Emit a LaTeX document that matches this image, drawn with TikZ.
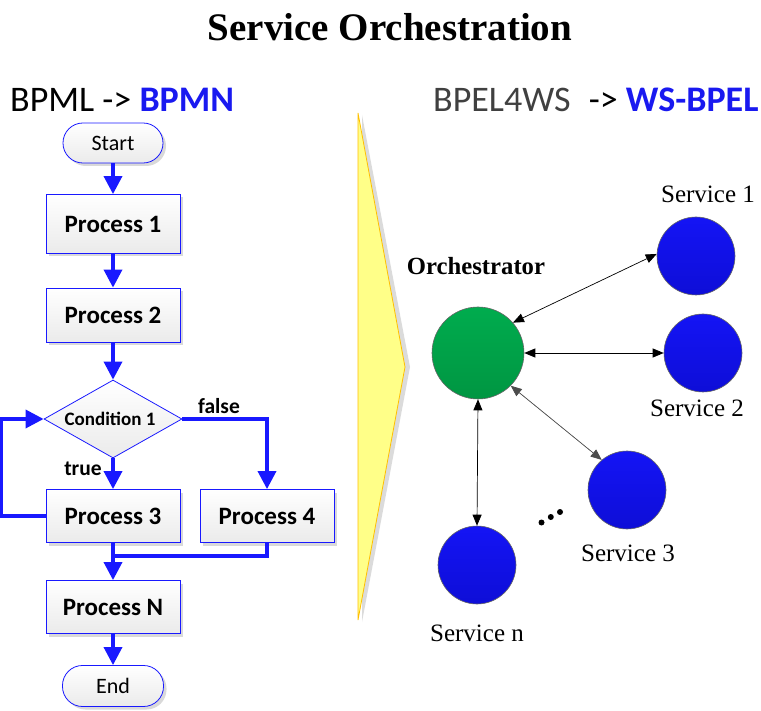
\documentclass[tikz,border=0pt]{standalone}
\usepackage{fontspec}
\setmainfont{Liberation Serif}
\newfontfamily\calfont{Carlito}
\usetikzlibrary{arrows.meta,shadows,shapes.geometric}
\definecolor{fblue}{RGB}{25,25,255}
\definecolor{hblue}{RGB}{25,25,240}
\definecolor{svctop}{RGB}{20,20,245}
\definecolor{svcbot}{RGB}{14,14,215}
\definecolor{orchtop}{RGB}{0,172,78}
\definecolor{orchbot}{RGB}{0,150,66}
\definecolor{chevfill}{RGB}{255,255,136}
\definecolor{chevline}{RGB}{255,192,0}
\definecolor{hgray}{RGB}{64,64,64}
\begin{document}
\begin{tikzpicture}[x=1pt,y=-1pt,
  shad/.style={drop shadow={shadow xshift=3pt,shadow yshift=-3pt,fill=black!25,opacity=0.6}},
  box/.style={draw=fblue,line width=0.8pt,top color=white,bottom color=black!8,
    minimum width=134pt,inner sep=0pt,shad,
    font=\calfont\bfseries\fontsize{25}{27}\selectfont},
  term/.style={draw=fblue,line width=0.8pt,top color=white,bottom color=black!8,
    rounded corners=19.9pt,minimum height=40pt,inner sep=0pt,shad,
    font=\calfont\fontsize{22}{24}\selectfont},
  flow/.style={draw=fblue,line width=3.5pt,-{Triangle[length=18pt,width=18pt]}},
  flowline/.style={draw=fblue,line width=3.5pt},
  lbl/.style={font=\calfont\bfseries\fontsize{21.5}{23}\selectfont,inner sep=0pt},
  svc/.style={circle,draw=black!60,line width=0.6pt,top color=svctop,bottom color=svcbot,
    minimum size=78pt,inner sep=0pt},
  svclbl/.style={font=\fontsize{25}{27}\selectfont,inner sep=0pt},
  tipS/.tip={Triangle[length=11pt,width=9pt]},
  link/.style={line width=0.7pt,tipS-tipS}
]
\useasboundingbox (0,0) rectangle (761,711);

% title and headers
\node[font=\bfseries\fontsize{39}{41}\selectfont,anchor=base,inner sep=0pt] (title) at (390,41) {Service Orchestration};
\node[font=\calfont\fontsize{36}{38}\selectfont,anchor=base west,inner sep=0pt] (hl) at (10,112)
  {BPML -> {\bfseries\color{hblue}BPMN}};
\node[font=\calfont\fontsize{36}{38}\selectfont,anchor=base west,inner sep=0pt] (hr) at (433,112)
  {{\color{hgray}BPEL4WS}\hspace{10pt} -> {\bfseries\color{hblue}WS-BPEL}};

% flowchart
\node[term,minimum width=100pt] (start) at (113,143) {Start};
\node[box,minimum height=59pt] (p1) at (113,224) {Process 1};
\node[box,minimum height=54pt] (p2) at (113,315) {Process 2};
\node[diamond,draw=fblue,line width=0.8pt,top color=white,bottom color=black!8,
  minimum width=138pt,minimum height=78pt,inner sep=0pt] (cond) at (113,419) {};
\node[font=\calfont\bfseries\fontsize{19}{21}\selectfont,inner sep=0pt] (condtxt) at (110,419) {Condition 1};
\node[box,minimum height=53pt] (p3) at (113,516) {Process 3};
\node[box,minimum height=53pt] (p4) at (267,516) {Process 4};
\node[box,minimum height=53pt] (pn) at (113,607) {Process N};
\node[term,minimum width=101pt,minimum height=41pt] (end) at (113,686) {End};

\draw[flow] (start.south) -- (p1.north);
\draw[flow] (p1.south) -- (p2.north);
\draw[flow] (p2.south) -- (cond.north);
\draw[flow] (cond.south) -- (p3.north);
\draw[flow] (p3.west) -- ++(-44,0) |- (cond.west);
\draw[flow] (cond.east) -| (p4.north);
\coordinate (m) at (113,556);
\draw[flowline] (p4.south) |- (m);
\draw[flow] (p3.south) -- (pn.north);
\draw[flow] (pn.south) -- (end.north);
\node[lbl] (lfalse) at (219,406) {false};
\node[lbl] (ltrue) at (83,469) {true};

% chevron
\fill[black!14] (362,115) -- (410,367) -- (362,622) -- cycle;
\draw[draw=chevline,fill=chevfill,line width=0.8pt] (358,113) -- (405,367) -- (358,620) -- cycle;

% orchestration
\node[circle,draw=black!60,line width=0.6pt,top color=orchtop,bottom color=orchbot,
  minimum size=92pt,inner sep=0pt] (orch) at (478,353) {};
\node[font=\bfseries\fontsize{24.7}{26}\selectfont,inner sep=0pt] (orchlbl) at (476,266) {Orchestrator};
\node[svc] (s1) at (696,256) {};
\node[svc] (s2) at (703,353) {};
\node[svc] (s3) at (627,490) {};
\node[svc] (sn) at (477,565) {};
\node[svclbl] (l1) at (708,194) {Service 1};
\node[svclbl] (l2) at (697,408) {Service 2};
\node[svclbl] (l3) at (628,553) {Service 3};
\node[svclbl] (ln) at (477,633) {Service n};

\draw[link] (orch.41) -- (s1.177);
\draw[link] (orch) -- (s2);
\draw[link,draw=black!70,fill=black!70] (orch.-45) -- (s3.130);
\draw[link] (orch.south) -- (sn.north);

\fill (541.5,522.5) circle (3pt) (550.8,517) circle (3pt) (560,512) circle (3pt);
\end{tikzpicture}
\end{document}
